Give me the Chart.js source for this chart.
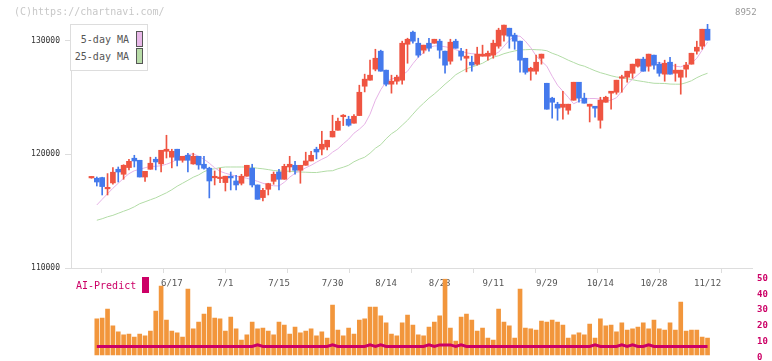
<!DOCTYPE html>
<html>
<head>
<meta charset="utf-8">
<title>8952</title>
<script src="https://cdn.jsdelivr.net/npm/chart.js@4.4.1/dist/chart.umd.min.js"></script>
<style>
  html, body { margin: 0; padding: 0; background: #fff; overflow: hidden; }
  #wrap { position: relative; width: 772px; height: 361px; font-family: "DejaVu Sans Mono", monospace; }
  #priceChart { position: absolute; left: 0; top: 0; }
  #aiChart { position: absolute; left: 0; top: 268px; }
  .copy { position: absolute; left: 14px; top: 6px; font-size: 10px; line-height: 12px; color: #c8c8c8; }
  .code { position: absolute; left: 735px; top: 6px; font-size: 9px; line-height: 12px; color: #999; }
  .legend { position: absolute; left: 70px; top: 24px; width: 76px; height: 45px; border: 1px solid #dddddd; background: #fff; }
  .legend .txt { position: absolute; left: 0; width: 58px; text-align: right; font-size: 10px; line-height: 12px; color: #555; }
  .legend .sw { position: absolute; left: 65px; width: 5px; height: 14px; border: 1px solid #555; }
  .ai { position: absolute; left: 76px; top: 280px; font-size: 10px; line-height: 12px; color: #cc0066; }
  .aisw { position: absolute; left: 142px; top: 277px; width: 7px; height: 16px; background: #cc0066; }
</style>
</head>
<body>
<div id="wrap">
  <canvas id="priceChart" width="772" height="300"></canvas>
  <canvas id="aiChart" width="772" height="100"></canvas>
  <div class="copy">(C)https://chartnavi.com/</div>
  <div class="code">8952</div>
  <div class="legend">
    <div class="txt" style="top:9px">5-day MA</div>
    <div class="sw" style="top:6px;background:#e8b8e8"></div>
    <div class="txt" style="top:26px">25-day MA</div>
    <div class="sw" style="top:23px;background:#b8dca8"></div>
  </div>
  <div class="ai">AI-Predict</div>
  <div class="aisw"></div>
</div>
<script>
// ローソク足 (index 0 = 5/27 ... 115 = 11/12)
const openPrices = [117920,117890,117950,116960,117480,118680,118240,118830,119650,119470,
  118000,118680,119560,119150,120260,119740,120440,119470,119910,119150,
  119820,119120,118770,117930,117860,117510,118070,117650,117450,118070,
  118770,117300,116190,116920,117620,118440,117800,118880,119030,118590,
  119030,119410,120440,120440,120640,121520,122110,123300,123080,122730,
  123400,125980,126510,127480,129060,127390,126160,126420,126510,129670,
  130730,129760,129150,129760,129760,129940,129060,128180,129940,129060,
  128440,128090,127920,128620,128620,128710,129500,130470,131080,130470,
  129940,128440,127300,127300,128440,126240,124930,124400,124130,123870,
  124750,126330,124930,124220,124220,122990,124570,125370,125450,126680,
  126770,127120,127740,128360,127740,128710,127920,127040,128090,127120,
  126770,127480,127920,129060,129500,130990];
const highPrices = [118020,118000,117980,118300,118830,118880,119080,119560,119910,119470,
  118500,119740,119740,120350,121670,120440,120440,119820,120090,120090,
  119820,119820,118860,118530,118770,118070,118440,118150,118240,119030,
  119120,117300,117010,117450,118440,118680,119120,119820,119380,119030,
  120180,120260,120620,122020,121230,123430,123170,123490,123340,123490,
  126070,127040,128270,129230,129150,127390,126950,126950,129940,130200,
  130820,130200,129590,130200,130110,130110,129060,130110,130110,129320,
  129230,128620,129410,129590,129060,130030,131080,131350,131080,130640,
  129940,128440,127650,128710,128800,126240,125010,124570,125540,124400,
  126330,126330,125370,124400,124220,125010,125100,125540,126510,126950,
  127300,127920,128360,128530,128800,128710,128090,128270,128530,127920,
  127390,128090,128880,129940,130990,131520];
const lowPrices = [117890,117210,116420,116420,117360,117560,117800,118620,118880,118000,
  117620,118680,118620,118440,119670,118800,118970,119300,118440,119120,
  118680,118680,116160,117300,117510,116770,116860,116860,117300,118070,
  117120,116040,115890,116420,117360,116860,117800,118440,118240,117450,
  119030,119410,119590,119940,120380,121520,122110,122520,122460,122730,
  123400,125480,126510,127330,127300,126010,125370,126160,126160,128000,
  129760,128530,128880,129060,129760,128440,127120,127920,129320,128270,
  127240,127300,127830,128620,128270,128440,129320,129940,129320,129230,
  127210,127040,126510,127040,127920,123960,123170,122990,123080,123520,
  124750,124570,124490,122840,123250,122290,124570,123960,125280,125450,
  126330,126680,127650,127300,127300,127480,126860,126420,127040,126420,
  125280,126770,127920,128800,129230,130030];
const closePrices = [117950,117560,117160,116980,118420,118440,119030,119380,119410,118000,
  118500,119210,119320,120350,120440,120260,119470,119820,119470,119820,
  119060,118770,117650,118020,117950,118070,117920,117300,118070,119030,
  117300,116040,116830,117420,118240,117800,118940,119120,118590,119030,
  119410,119910,120200,120880,121230,122020,122900,123390,122550,123340,
  125450,126600,126950,128440,127300,126160,126420,126770,129760,130110,
  129940,128710,129590,129320,130110,129150,127830,129850,129320,128620,
  128620,127830,128800,128800,128880,129760,130910,131350,130380,129940,
  128270,127210,127560,128090,128800,123960,124570,124050,124400,124400,
  126330,124930,124490,124400,124050,124750,125010,125540,126510,126770,
  127300,127920,128360,127300,128800,127830,127120,128000,127040,127390,
  127390,127830,128880,129410,130990,130030];

// 移動平均線
const ma5 = [null,115540,116040,116530,117010,117450,117890,118290,118550,118680,118810,
  118940,118940,118990,119120,119300,119560,119780,119960,120040,119820,
  119560,119210,118810,118500,118330,118200,118070,117980,117890,117760,
  117620,117450,117320,117230,117210,117540,117980,118330,118550,118810,
  119030,119300,119560,119780,120180,120480,120920,121320,121850,122200,
  122640,123520,124750,125670,126380,126600,126770,126950,127300,127960,
  128530,128930,129370,129520,129520,129450,129370,129190,129060,128910,
  128840,128800,128750,128710,128750,128970,129500,130030,130380,130380,
  129940,129370,128650,128180,127740,126860,126070,125540,125010,124440,
  124660,124840,124900,124900,124840,124690,124750,124970,125540,126160,
  126600,126990,127390,127830,128070,128050,127960,127870,127740,127680,
  127870,128000,128440,129150,129850];
const ma25 = [null,114200,114330,114500,114630,114810,114990,115160,115380,115650,115820,
  116000,116170,116390,116610,116880,117190,117450,117710,117980,118180,
  118460,118660,118720,118830,118880,118880,118880,118880,118880,118840,
  118770,118720,118650,118570,118530,118520,118500,118480,118440,118420,
  118400,118390,118460,118530,118550,118720,118860,119030,119340,119560,
  119740,120090,120530,120840,121360,121800,122110,122550,122990,123520,
  124050,124490,124930,125300,125720,126160,126550,126990,127260,127520,
  127670,127830,128000,128270,128530,128660,128840,128970,129080,129170,
  129190,129210,129190,129170,129100,128880,128710,128500,128270,128070,
  127870,127740,127540,127340,127170,127040,126900,126790,126730,126640,
  126550,126460,126390,126310,126240,126230,126220,126170,126160,126160,
  126290,126460,126730,126950,127120];

// AI-Predict
const aiBars = [null,24.4,25.0,30.7,20.0,16.2,14.3,14.9,13.0,14.9,13.7,
  16.8,29.4,45.2,23.7,16.8,15.6,13.0,43.3,18.1,22.5,
  27.5,31.9,25.0,24.4,16.8,25.6,18.1,11.1,14.3,22.5,
  18.1,18.7,16.8,14.3,22.5,20.6,14.9,19.3,15.6,16.8,
  18.1,13.7,16.2,12.4,33.2,17.4,13.7,18.7,14.9,23.7,
  24.4,31.9,31.9,26.3,21.9,14.9,13.7,21.9,26.9,20.6,
  14.3,13.7,19.3,22.5,26.3,49.6,18.7,10.5,25.6,27.5,
  23.7,16.8,18.7,12.4,11.1,30.7,22.5,20.0,12.4,43.3,
  18.7,18.1,17.4,23.1,22.5,23.7,22.5,20.6,12.4,14.3,
  15.6,14.3,21.2,12.4,24.4,20.0,20.6,16.2,21.9,17.4,
  18.1,19.3,21.9,18.1,23.7,18.1,17.4,21.9,17.4,35.1,
  16.8,17.4,17.4,13.0,12.4];
const aiLine = [null,7,7,7,7,7,7,7,7,7,7,
  7,7,7,7,7,7,7,7,7,7,
  7,7,7,7,7,7,7,7,7,7,
  8,7,7,7,7,7,7,7,7,7,
  7,7,7,7,8,7,7,7,7,7,
  7,8,7,8,7,7,7,7,7,7,
  7,7,8,7,8,8,8,7,8,7,
  7,7,7,7,7,7,7,7,7,7,
  7,7,7,7,7,7,7,7,7,7,
  7,7,7,8,7,7,7,7,8,7,
  8,7,7,8,7,7,7,7,7,7,
  7,7,7,7,7];

const dateLabels = ["6/17", "7/1", "7/15", "7/30", "8/14", "8/28", "9/11", "9/29", "10/14", "10/28", "11/12"];
const dateIndex = [15, 25, 35, 45, 55, 65, 75, 85, 95, 105, 115];
const priceTicks = [110000, 120000, 130000];

const MONO = "'DejaVu Sans Mono', monospace";
const X_MIN = -3.82;
const X_MAX = 123.3;
const UP = "#ef5441";
const DOWN = "#4479ec";

Chart.defaults.font.family = MONO;

const idx = openPrices.map((_, i) => i);
const candleColor = (ctx) => {
  const i = ctx.dataIndex;
  return closePrices[i] >= openPrices[i] ? UP : DOWN;
};

// --- 上段: 株価 ---
new Chart(document.getElementById("priceChart"), {
  type: "bar",
  data: {
    datasets: [
      {
        label: "body",
        data: idx.map((i) => ({ x: i, y: [openPrices[i], closePrices[i]] })),
        backgroundColor: candleColor,
        borderWidth: 0,
        barThickness: 5,
        minBarLength: 1.5,
        grouped: false,
        order: 0,
      },
      {
        label: "wick",
        data: idx.map((i) => ({ x: i, y: [lowPrices[i], highPrices[i]] })),
        backgroundColor: candleColor,
        borderWidth: 0,
        barThickness: 1,
        grouped: false,
        order: 1,
      },
      {
        type: "line",
        label: "5-day MA",
        data: idx.map((i) => ({ x: i, y: ma5[i] })),
        borderColor: "#e6b2e6",
        borderWidth: 1,
        pointRadius: 0,
        order: 2,
      },
      {
        type: "line",
        label: "25-day MA",
        data: idx.map((i) => ({ x: i, y: ma25[i] })),
        borderColor: "#b2dca6",
        borderWidth: 1,
        pointRadius: 0,
        order: 3,
      },
    ],
  },
  options: {
    responsive: false,
    animation: false,
    layout: { padding: { left: 0, right: 20, top: 24, bottom: 0 } },
    plugins: { legend: { display: false }, tooltip: { enabled: false } },
    scales: {
      x: {
        type: "linear",
        min: X_MIN,
        max: X_MAX,
        offset: false,
        weight: 0,
        afterBuildTicks: (s) => {
          s.ticks = Array.from({ length: 12 }, (_, k) => ({ value: X_MIN + (k * (X_MAX - X_MIN)) / 11 }));
        },
        afterFit: (s) => { s.height = 6; },
        grid: { drawOnChartArea: false, color: "#dddddd", tickLength: 5 },
        border: { color: "#dddddd" },
        ticks: { display: false },
      },
      xl: {
        type: "linear",
        position: "bottom",
        min: X_MIN,
        max: X_MAX,
        offset: false,
        weight: 1,
        afterBuildTicks: (s) => { s.ticks = dateIndex.map((v) => ({ value: v })); },
        afterFit: (s) => { s.height = 26; },
        grid: { display: false, drawTicks: false, offset: false },
        border: { display: false },
        ticks: {
          autoSkip: false,
          maxRotation: 0,
          padding: 4,
          color: "#555",
          font: { family: MONO, size: 9 },
          callback: (v, k) => dateLabels[k],
        },
      },
      y: {
        min: 110000,
        max: 131450,
        afterBuildTicks: (s) => { s.ticks = priceTicks.map((v) => ({ value: v })); },
        afterFit: (s) => { s.width = 71; },
        grid: { drawOnChartArea: false, color: "#dddddd", tickLength: 6 },
        border: { color: "#dddddd" },
        ticks: {
          padding: 5,
          color: "#333",
          font: { family: MONO, size: 8 },
          callback: (v) => String(v),
        },
      },
    },
  },
});

// --- 下段: AI-Predict ---
new Chart(document.getElementById("aiChart"), {
  type: "bar",
  data: {
    datasets: [
      {
        type: "line",
        data: idx.map((i) => ({ x: i, y: aiLine[i] })),
        borderColor: "#cc0066",
        borderWidth: 3,
        pointRadius: 0,
        order: 0,
      },
      {
        data: idx.map((i) => ({ x: i, y: aiBars[i] })),
        backgroundColor: "#f2963c",
        borderWidth: 0,
        barThickness: 4,
        base: 1.7,
        order: 1,
      },
    ],
  },
  options: {
    responsive: false,
    animation: false,
    layout: { padding: { left: 71, right: 0, top: 10.3, bottom: 10.3 } },
    plugins: { legend: { display: false }, tooltip: { enabled: false } },
    scales: {
      x: { type: "linear", min: X_MIN, max: X_MAX, offset: false, display: false },
      y: {
        position: "right",
        min: 0,
        max: 50,
        afterFit: (s) => { s.width = 20; },
        grid: { display: false, drawTicks: false },
        border: { display: false },
        ticks: {
          stepSize: 10,
          padding: 5,
          color: "#cc0066",
          font: { family: MONO, size: 9, weight: "bold" },
        },
      },
    },
  },
});
</script>
</body>
</html>
